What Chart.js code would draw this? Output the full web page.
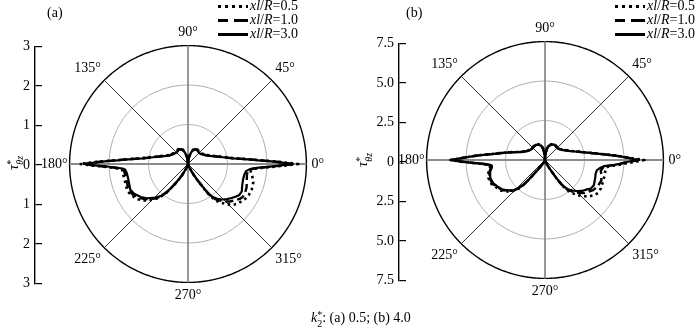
<!DOCTYPE html>
<html>
<head>
<meta charset="utf-8">
<script src="https://cdn.jsdelivr.net/npm/chart.js@4.4.1/dist/chart.umd.min.js"></script>
<style>
  body { margin: 0; background: #fff; }
  #page { position: relative; width: 700px; height: 328px; overflow: hidden;
          font-family: 'Liberation Serif', 'Times New Roman', serif; color: #000; }
  canvas { position: absolute; }
  .txt { position: absolute; font-size: 14px; line-height: 14px; white-space: nowrap; }
  .sample { position: absolute; width: 30px; height: 3px; }
  .dotted { background: repeating-linear-gradient(to right, #000 0 3px, transparent 3px 7px); }
  .dashed { background: linear-gradient(to right, #000 0 10px, transparent 10px 16px, #000 16px 30px); }
  .solid { background: #000; }
  .ss { display: inline-block; vertical-align: -5px; font-size: 10px; line-height: 9px; text-align: left; }
  .ss span { display: block; }
  .ytitle { position: absolute; width: 40px; height: 20px; font-size: 15px; line-height: 20px;
            text-align: center; transform: rotate(-90deg); white-space: nowrap; }
</style>
</head>
<body>
<div id="page">
  <canvas id="axisA" width="42" height="264" style="left:0px; top:33px"></canvas>
  <canvas id="polarA" width="294" height="294" style="left:36px; top:18px"></canvas>
  <canvas id="axisB" width="42" height="264" style="left:364px; top:30px"></canvas>
  <canvas id="polarB" width="294" height="294" style="left:393px; top:14px"></canvas>

  <div class="txt" style="left:47px; top:6px">(a)</div>
  <div class="txt" style="left:406px; top:6px">(b)</div>

  <div class="ytitle" style="left:-7px; top:153px"><i>τ</i><span class="ss"><span>*</span><span><i>θz</i></span></span></div>
  <div class="ytitle" style="left:342px; top:150px"><i>τ</i><span class="ss"><span>*</span><span><i>θz</i></span></span></div>

  <div id="legendA"></div>
  <div id="legendB"></div>

  <div class="txt" style="left:311px; top:310px"><i>k</i><span class="ss"><span>*</span><span>2</span></span>: (a) 0.5; (b) 4.0</div>
</div>

<script>
const anglesA = [0,1,2,3,4,5,7,9,12,16,21,26,32,38,45,52,58,64,70,75,80,85,90,
  95,100,105,110,116,122,128,135,142,148,154,159,164,168,171,173,175,176,177,178,179,180,
  181,182,183,184,185,188,192,198,204,209,215,220,226,230,233,235,237,239,241,243,246,249,253,256,
  286,290,293,296,298,300,302,303,304,305,307,310,314,318,322,326,329,333,338,344,349,353,355,356,357,358,359];

// k2* = 0.5, radius of tau*_theta_z
const r05A = [2.8,2.42,2.1,1.83,1.64,1.46,1.19,1.04,0.88,0.73,0.6,0.52,0.47,0.43,0.42,0.43,0.44,0.43,0.39,0.31,0.21,0.1,0,
  0.1,0.21,0.31,0.39,0.43,0.45,0.44,0.43,0.45,0.48,0.52,0.6,0.73,0.88,1.04,1.19,1.46,1.64,1.83,2.1,2.42,2.75,
  2.4,2.08,1.88,1.74,1.68,1.66,1.66,1.66,1.68,1.64,1.56,1.44,1.26,1.1,0.92,0.74,0.6,0.48,0.37,0.28,0.16,0.08,0.03,0,
  0,0.04,0.11,0.22,0.33,0.46,0.62,0.75,0.88,1.0,1.15,1.27,1.42,1.55,1.62,1.66,1.7,1.73,1.74,1.72,1.66,1.6,1.62,1.7,1.86,2.12,2.45];
const r10A = [2.68,2.38,2.07,1.8,1.62,1.44,1.17,1.02,0.86,0.71,0.59,0.51,0.46,0.42,0.41,0.42,0.43,0.42,0.38,0.31,0.2,0.1,0,
  0.1,0.2,0.3,0.38,0.42,0.44,0.43,0.42,0.44,0.47,0.51,0.59,0.71,0.86,1.02,1.17,1.44,1.62,1.8,2.07,2.38,2.66,
  2.35,2.04,1.84,1.7,1.64,1.62,1.61,1.62,1.64,1.6,1.5,1.39,1.22,1.08,0.9,0.73,0.59,0.47,0.37,0.27,0.16,0.08,0.03,0,
  0,0.04,0.11,0.22,0.32,0.45,0.6,0.72,0.85,0.96,1.1,1.2,1.32,1.42,1.5,1.58,1.62,1.62,1.6,1.55,1.52,1.52,1.58,1.66,1.82,2.06,2.36];
const r30A = [2.62,2.35,2.05,1.78,1.6,1.42,1.16,1.01,0.85,0.7,0.58,0.5,0.45,0.41,0.4,0.41,0.42,0.41,0.37,0.3,0.2,0.1,0,
  0.1,0.2,0.3,0.37,0.41,0.43,0.42,0.41,0.43,0.46,0.5,0.58,0.7,0.85,1.01,1.16,1.42,1.6,1.78,2.05,2.35,2.6,
  2.3,2.0,1.8,1.66,1.6,1.57,1.56,1.57,1.6,1.56,1.46,1.35,1.18,1.05,0.88,0.72,0.58,0.46,0.36,0.27,0.16,0.08,0.03,0,
  0,0.04,0.11,0.22,0.32,0.44,0.58,0.7,0.82,0.93,1.05,1.15,1.25,1.33,1.4,1.47,1.52,1.53,1.48,1.45,1.45,1.48,1.56,1.64,1.8,2.02,2.3];

const anglesB = [0,1,2,3,4,5,7,9,12,16,21,26,32,38,45,52,58,64,70,75,80,85,90,
  95,100,105,110,116,122,128,135,142,148,154,159,164,168,171,173,175,176,177,178,179,180,
  181,182,183,184,185,186,188,192,198,204,209,215,220,224,227,229,230,231,232,234,236,239,243,248,253,
  283,286,290,293,296,298,300,302,304,306,308,312,316,320,325,328,333,340,345,349,352,354,355,356,357,358,359];

// k2* = 4.0
const r05B = [6.3,5.6,5.12,4.72,4.32,3.95,3.35,2.9,2.42,2.0,1.64,1.44,1.26,1.16,1.12,1.14,1.16,1.14,1.04,0.94,0.77,0.41,0,
  0.41,0.77,0.94,1.04,1.12,1.14,1.14,1.12,1.14,1.19,1.32,1.5,1.85,2.35,2.85,3.25,3.85,4.25,4.6,5.0,5.45,5.98,
  5.42,4.78,4.25,3.86,3.62,3.5,3.52,3.66,3.76,3.72,3.56,3.38,3.1,2.85,2.5,2.12,1.8,1.34,1.03,0.72,0.51,0.33,0.17,0.06,0,
  0,0.02,0.1,0.22,0.4,0.59,0.85,1.34,1.95,2.3,2.6,2.95,3.3,3.6,3.85,3.95,3.97,3.92,3.9,3.88,3.9,4.0,4.25,4.6,4.95,5.3,5.8];
const r10B = [5.95,5.5,5.08,4.68,4.28,3.92,3.32,2.87,2.4,1.97,1.62,1.42,1.24,1.14,1.1,1.12,1.14,1.12,1.02,0.93,0.76,0.4,0,
  0.4,0.76,0.93,1.03,1.1,1.12,1.12,1.1,1.12,1.17,1.3,1.47,1.82,2.32,2.82,3.22,3.82,4.22,4.58,4.98,5.42,5.97,
  5.38,4.74,4.2,3.8,3.56,3.44,3.46,3.6,3.7,3.66,3.5,3.32,3.05,2.8,2.45,2.1,1.78,1.32,1.02,0.71,0.5,0.32,0.17,0.06,0,
  0,0.02,0.1,0.22,0.4,0.58,0.84,1.32,1.9,2.2,2.45,2.75,3.0,3.25,3.45,3.6,3.72,3.8,3.7,3.6,3.68,3.82,4.1,4.45,4.78,5.05,5.45];
const r30B = [5.86,5.45,5.05,4.65,4.25,3.9,3.3,2.85,2.38,1.95,1.6,1.4,1.22,1.12,1.08,1.1,1.12,1.1,1.0,0.92,0.75,0.4,0,
  0.4,0.75,0.92,1.02,1.08,1.1,1.1,1.08,1.1,1.15,1.28,1.45,1.8,2.3,2.8,3.2,3.8,4.2,4.55,4.95,5.4,5.95,
  5.35,4.7,4.15,3.75,3.5,3.38,3.4,3.55,3.65,3.6,3.45,3.27,3.0,2.75,2.4,2.05,1.75,1.3,1.0,0.7,0.5,0.32,0.17,0.06,0,
  0,0.02,0.1,0.22,0.4,0.58,0.83,1.3,1.85,2.1,2.35,2.6,2.83,3.05,3.25,3.42,3.48,3.38,3.32,3.35,3.55,3.75,4.05,4.4,4.72,4.97,5.35];

const seriesNames = ['xl/R=0.5', 'xl/R=1.0', 'xl/R=3.0'];
const angleTicks = [0, 45, 90, 135, 180, 225, 270, 315];
const radialTicksA = [0, 1, 2, 3];
const radialTicksB = [0, 2.5, 5.0, 7.5];

const FONT = 'Liberation Serif';

// one label per degree, going clockwise on screen from the right -> math angle (360 - i) % 360
const degreeLabels = Array.from({ length: 360 }, (_, i) => (360 - i) % 360);

// place the read values at their angle, leave the rest empty (lines span the gaps)
function toRadarData(angles, radii) {
    const data = new Array(360).fill(null);
    angles.forEach((a, k) => { data[(360 - a) % 360] = radii[k]; });
    return data;
}

const lineStyles = [
    { borderDash: [2.5, 3.5], borderWidth: 2.6, order: 3 },  // dotted
    { borderDash: [8, 4], borderWidth: 2.4, order: 2 },      // dashed
    { borderDash: [], borderWidth: 2.2, order: 1 }           // solid
];

function makePolar(id, angles, seriesList, ticks) {
    const max = ticks[ticks.length - 1];
    const step = ticks[1] - ticks[0];
    return new Chart(document.getElementById(id), {
        type: 'radar',
        data: {
            labels: degreeLabels,
            datasets: seriesList.map((radii, k) => Object.assign({
                label: seriesNames[k],
                data: toRadarData(angles, radii),
                borderColor: '#000',
                backgroundColor: 'transparent',
                fill: false,
                spanGaps: true,
                pointRadius: 0,
                borderJoinStyle: 'round'
            }, lineStyles[k]))
        },
        options: {
            responsive: false,
            animation: false,
            events: [],
            plugins: { legend: { display: false }, tooltip: { enabled: false } },
            scales: {
                r: {
                    min: 0,
                    max: max,
                    startAngle: 90,
                    ticks: { display: false, stepSize: step },
                    grid: {
                        color: (ctx) => ctx.tick && ctx.tick.value === max ? '#000' : '#a0a0a0',
                        lineWidth: (ctx) => ctx.tick && ctx.tick.value === max ? 1.4 : 0.9
                    },
                    angleLines: {
                        color: (ctx) => degreeLabels[ctx.index] % 90 === 0 ? '#8c8c8c' : '#333',
                        lineWidth: (ctx) => {
                            const a = degreeLabels[ctx.index];
                            if (!angleTicks.includes(a)) return 0;
                            return a % 90 === 0 ? 1.8 : 1;
                        }
                    },
                    pointLabels: {
                        color: '#000',
                        // the 180° label sits tight against the circle
                        padding: (ctx) => degreeLabels[ctx.index] === 180 ? 2 : 5,
                        font: { family: FONT, size: 14 },
                        callback: (label) => angleTicks.includes(label) ? label + '°' : ''
                    }
                }
            }
        }
    });
}

// separate left axis: ticks point into a narrow chart area
function makeAxis(id, ticks, fmt) {
    const max = ticks[ticks.length - 1];
    return new Chart(document.getElementById(id), {
        type: 'scatter',
        data: { datasets: [] },
        options: {
            responsive: false,
            animation: false,
            events: [],
            layout: { padding: { top: 10, bottom: 10, left: 0, right: 0 } },
            plugins: { legend: { display: false }, tooltip: { enabled: false } },
            scales: {
                x: { display: false, min: 0, max: 1 },
                y: {
                    min: -max,
                    max: max,
                    afterFit: (scale) => { scale.width = 35; },
                    border: { display: true, color: '#000', width: 1.4 },
                    grid: { drawTicks: false, color: '#000', lineWidth: 1.2 },
                    ticks: {
                        stepSize: ticks[1] - ticks[0],
                        padding: 5,
                        color: '#000',
                        font: { family: FONT, size: 14 },
                        callback: (v) => fmt(Math.abs(v))
                    }
                }
            }
        }
    });
}

function buildLegend(id, left) {
    const box = document.getElementById(id);
    const kinds = ['dotted', 'dashed', 'solid'];
    seriesNames.forEach((name, k) => {
        const top = -1 + k * 14;
        const parts = name.split('=');
        box.insertAdjacentHTML('beforeend',
            `<div class="sample ${kinds[k]}" style="left:${left}px; top:${top + 6}px"></div>` +
            `<div class="txt" style="left:${left + 32}px; top:${top}px"><i>xl</i>/<i>R</i>=${parts[1]}</div>`);
    });
}

makePolar('polarA', anglesA, [r05A, r10A, r30A], radialTicksA);
makePolar('polarB', anglesB, [r05B, r10B, r30B], radialTicksB);
makeAxis('axisA', radialTicksA, (v) => String(v));
makeAxis('axisB', radialTicksB, (v) => v === 0 ? '0' : v.toFixed(1));
buildLegend('legendA', 218);
buildLegend('legendB', 615);
</script>
</body>
</html>
